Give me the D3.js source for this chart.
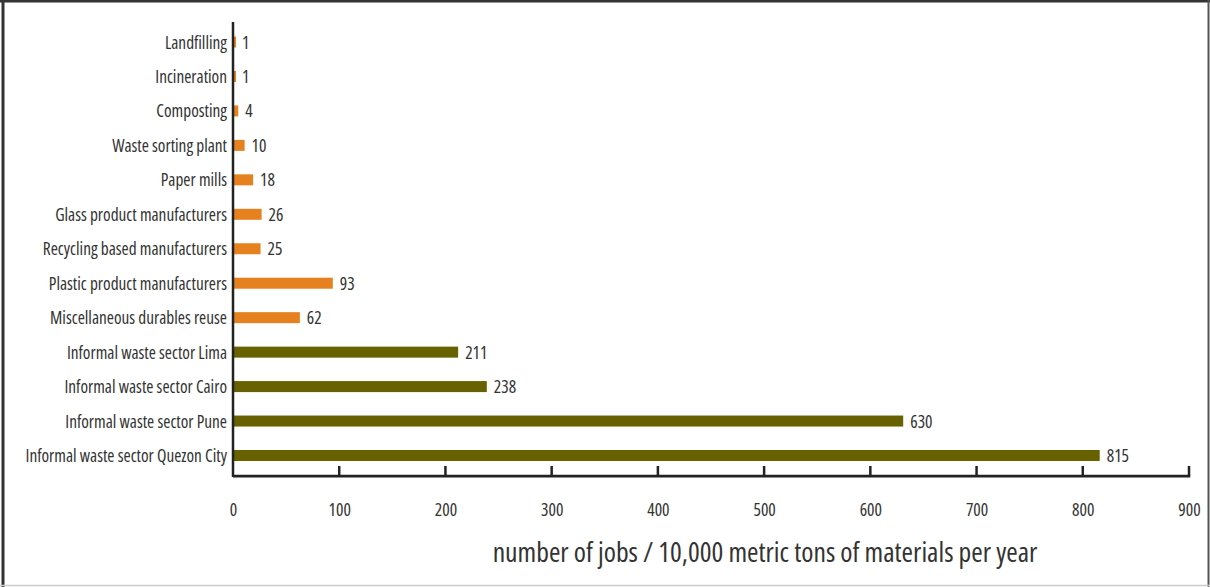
<!DOCTYPE html>
<html>
<head>
<meta charset="utf-8">
<script src="https://cdn.jsdelivr.net/npm/d3@7"></script>
<style>
  html, body { margin: 0; padding: 0; background: #fff; }
  svg text { font-family: "Open Sans", sans-serif; font-stretch: condensed; fill: #333; }
</style>
</head>
<body>
<svg id="chart" width="1210" height="587"></svg>
<script>
const categories = [
  "Landfilling",
  "Incineration",
  "Composting",
  "Waste sorting plant",
  "Paper mills",
  "Glass product manufacturers",
  "Recycling based manufacturers",
  "Plastic product manufacturers",
  "Miscellaneous durables reuse",
  "Informal waste sector Lima",
  "Informal waste sector Cairo",
  "Informal waste sector Pune",
  "Informal waste sector Quezon City"
];
const values = [1, 1, 4, 10, 18, 26, 25, 93, 62, 211, 238, 630, 815];
const groups = ["formal", "formal", "formal", "formal", "formal", "formal", "formal", "formal", "formal", "informal", "informal", "informal", "informal"];
const xTicks = [0, 100, 200, 300, 400, 500, 600, 700, 800, 900];
const axisTitle = "number of jobs / 10,000 metric tons of materials per year";

const colors = { formal: "#E5821F", informal: "#676100" };

const svg = d3.select("#chart");

// frame
svg.append("rect").attr("x", 0).attr("y", 0).attr("width", 1210).attr("height", 587).attr("fill", "#fff");
svg.append("line").attr("x1", 0).attr("x2", 1210).attr("y1", 1).attr("y2", 1).attr("stroke", "#333").attr("stroke-width", 3);
svg.append("line").attr("x1", 3).attr("x2", 3).attr("y1", 0).attr("y2", 587).attr("stroke", "#333").attr("stroke-width", 3);
svg.append("line").attr("x1", 1208.5).attr("x2", 1208.5).attr("y1", 0).attr("y2", 587).attr("stroke", "#555").attr("stroke-width", 2);
svg.append("line").attr("x1", 0).attr("x2", 1210).attr("y1", 585.5).attr("y2", 585.5).attr("stroke", "#ccc").attr("stroke-width", 1.5);

const x0 = 233, x1 = 1189, yTop = 22, yAxis = 476;
const x = d3.scaleLinear().domain([0, 900]).range([x0, x1]);
const y = d3.scalePoint().domain(categories).range([42, 455.5]);
const barH = 11;

const data = categories.map((c, i) => ({ c, v: values[i], g: groups[i] }));

// bars
svg.append("g").selectAll("rect").data(data).join("rect")
  .attr("x", x(0) + 1)
  .attr("y", d => y(d.c) - barH / 2)
  .attr("width", d => Math.max(2, x(d.v) - x(0)))
  .attr("height", barH)
  .attr("fill", d => colors[d.g]);

// value labels
svg.append("g").selectAll("text").data(data).join("text")
  .attr("x", d => x(d.v) + 8)
  .attr("y", d => y(d.c) + 6.5)
  .attr("font-size", 17.5)
  .text(d => d.v);

// category labels
svg.append("g").selectAll("text").data(data).join("text")
  .attr("x", 227)
  .attr("y", d => y(d.c) + 6.5)
  .attr("text-anchor", "end")
  .attr("font-size", 17.3)
  .text(d => d.c);

// y axis line
svg.append("line").attr("x1", x0).attr("x2", x0).attr("y1", yTop).attr("y2", yAxis + 1)
  .attr("stroke", "#222").attr("stroke-width", 2.5);

// x axis
const xAxis = d3.axisBottom(x).tickValues(xTicks).tickSize(0).tickFormat(d3.format("d"));
const gx = svg.append("g").attr("transform", `translate(0,${yAxis})`).call(xAxis);
gx.select(".domain").remove();
gx.selectAll("text").attr("y", 40).attr("dy", 0).attr("font-size", 17.5)
  .style("font-family", '"Open Sans", sans-serif').style("font-stretch", "condensed").style("fill", "#333");
svg.append("line").attr("x1", x0).attr("x2", x(900) + 1.25).attr("y1", yAxis).attr("y2", yAxis)
  .attr("stroke", "#222").attr("stroke-width", 2.75);
svg.append("g").selectAll("line").data(xTicks.filter(t => t > 0)).join("line")
  .attr("x1", d => x(d)).attr("x2", d => x(d))
  .attr("y1", yAxis - 10).attr("y2", yAxis)
  .attr("stroke", "#222").attr("stroke-width", 2.5);

// axis title
svg.append("text").attr("x", 765).attr("y", 562).attr("text-anchor", "middle")
  .attr("font-size", 27.7).text(axisTitle);
</script>
</body>
</html>
